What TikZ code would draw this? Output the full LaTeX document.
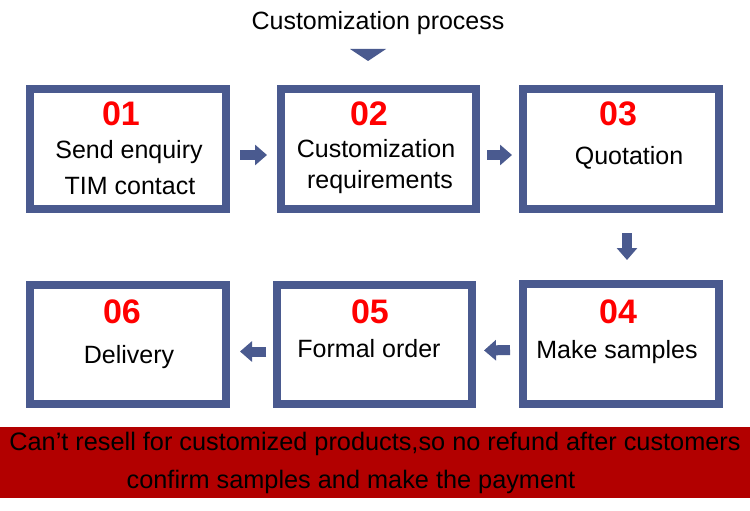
\documentclass[tikz,border=0pt]{standalone}
\usepackage{fontspec}
\setmainfont{Liberation Sans}
\usetikzlibrary{arrows.meta}
\definecolor{boxblue}{RGB}{74,90,143}
\definecolor{numred}{RGB}{255,0,0}
\definecolor{banred}{RGB}{178,0,0}
\tikzset{
  stepbox/.style={draw=boxblue, line width=8pt, fill=white, rectangle, inner sep=0pt},
  numtxt/.style={anchor=base, text=numred, font=\fontsize{34}{38}\selectfont\bfseries, inner sep=0pt},
  lbltxt/.style={anchor=base, text=black, font=\fontsize{25}{30}\selectfont, inner sep=0pt},
  bantxt/.style={anchor=base, text=black, font=\fontsize{25.3}{30}\selectfont, inner sep=0pt},
  flow/.style={draw=boxblue, line width=10pt, -{Triangle[length=12pt,width=20pt]}}
}
\begin{document}
\begin{tikzpicture}[x=1pt,y=-1pt]
\useasboundingbox (0,0) rectangle (750,511);
\fill[white] (0,0) rectangle (750,511);
% title
\node[lbltxt] (title) at (378,30) {Customization process};
\fill[boxblue] (350,49) -- (386,49) -- (368,61) -- cycle;
% boxes
\node[stepbox, minimum width=196pt, minimum height=120pt] (b1) at (128,149) {};
\node[stepbox, minimum width=195pt, minimum height=120pt] (b2) at (378.5,149) {};
\node[stepbox, minimum width=196pt, minimum height=120pt] (b3) at (621,149) {};
\node[stepbox, minimum width=196pt, minimum height=120pt] (b4) at (621,344) {};
\node[stepbox, minimum width=195pt, minimum height=119pt] (b5) at (374.5,344.5) {};
\node[stepbox, minimum width=196pt, minimum height=119pt] (b6) at (128,344.5) {};
% texts
\node[numtxt] (n1) at (121,125) {01};
\node[lbltxt] (t1a) at (129,158) {Send enquiry};
\node[lbltxt] (t1b) at (130,194) {TIM contact};
\node[numtxt] (n2) at (369,125) {02};
\node[lbltxt] (t2a) at (376,157) {Customization};
\node[lbltxt] (t2b) at (380,188) {requirements};
\node[numtxt] (n3) at (618,125) {03};
\node[lbltxt] (t3) at (629,164) {Quotation};
\node[numtxt] (n4) at (618,323) {04};
\node[lbltxt] (t4) at (617,358) {Make samples};
\node[numtxt] (n5) at (370,323) {05};
\node[lbltxt] (t5) at (369,357) {Formal order};
\node[numtxt] (n6) at (122,323) {06};
\node[lbltxt] (t6) at (129,363) {Delivery};
% arrows
\draw[flow, shorten <=10pt, shorten >=10pt] ([yshift=-6pt]b1.east) -- ([yshift=-6pt]b2.west);
\draw[flow, shorten <=7pt, shorten >=7pt] ([yshift=-6pt]b2.east) -- ([yshift=-6pt]b3.west);
\draw[flow, shorten <=20pt, shorten >=20pt] ([xshift=6pt]b3.south) -- ([xshift=6pt]b4.north);
\draw[flow, shorten <=9pt, shorten >=8pt] ([yshift=-6pt]b4.west) -- ([yshift=-6pt]b5.east);
\draw[flow, shorten <=7pt, shorten >=10pt] ([yshift=-7pt]b5.west) -- ([yshift=-7pt]b6.east);
% banner
\fill[banred] (0,427) rectangle (750,498);
\node[bantxt] (ban1) at (375,450) {Can’t resell for customized products,so no refund after customers};
\node[bantxt] (ban2) at (351,488) {confirm samples and make the payment};
\end{tikzpicture}
\end{document}
